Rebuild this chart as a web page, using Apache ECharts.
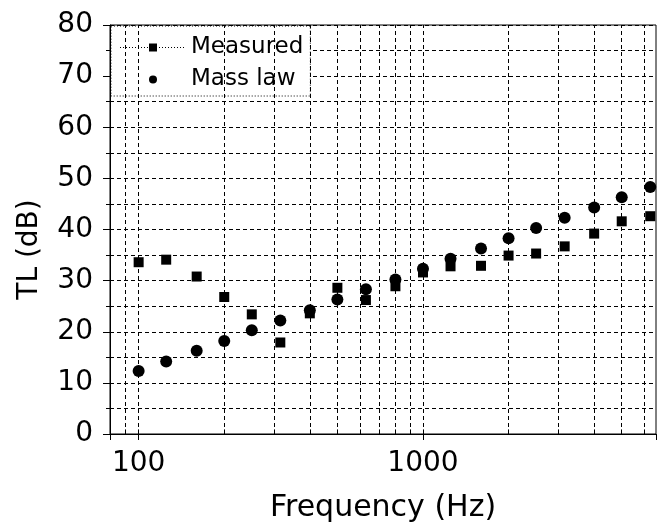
<!DOCTYPE html>
<html>
<head>
<meta charset="utf-8">
<script src="https://cdn.jsdelivr.net/npm/echarts@6/dist/echarts.min.js"></script>
<style>
  html, body { margin: 0; padding: 0; background: #fff; }
  #chart { width: 659px; height: 532px; }
</style>
</head>
<body>
<div id="chart"></div>
<script>
// 1/3-octave band centre frequencies (Hz)
const freqs = [100, 125, 160, 200, 250, 315, 400, 500, 630, 800, 1000, 1250, 1600, 2000, 2500, 3150, 4000, 5000, 6300];
const measured = [33.6, 34.1, 30.8, 26.8, 23.4, 17.9, 23.6, 28.6, 26.2, 28.9, 31.6, 32.8, 32.9, 34.9, 35.3, 36.7, 39.2, 41.6, 42.6];
const massLaw = [12.3, 14.2, 16.3, 18.2, 20.3, 22.2, 24.2, 26.3, 28.3, 30.2, 32.3, 34.3, 36.3, 38.3, 40.3, 42.3, 44.3, 46.3, 48.3];
// vertical grid positions (log minor grid)
const gridFreqs = [90, 100, 200, 300, 400, 500, 600, 700, 800, 900, 1000, 2000, 3000, 4000, 5000, 6000];
const xLabels = [100, 1000];

const font = '"DejaVu Sans", sans-serif';
const dash = [4, 3];

const chart = echarts.init(document.getElementById('chart'));
chart.setOption({
  animation: false,
  backgroundColor: '#fff',
  grid: {
    left: 110,
    right: -2,
    top: 25,
    bottom: 98,
    show: true,
    borderColor: '#000',
    borderWidth: 1
  },
  legend: {
    orient: 'vertical',
    left: 111,
    top: 26,
    padding: [10, 7, 5, 8],
    itemWidth: 66,
    itemHeight: 10,
    itemGap: 9,
    borderColor: '#000',
    borderWidth: 1,
    borderType: [1, 2],
    backgroundColor: '#fff',
    textStyle: { fontFamily: font, fontSize: 23, color: '#000' },
    data: [
      { name: 'Measured', itemStyle: { color: '#000' }, lineStyle: { color: '#000', width: 1, type: [1, 2], opacity: 1 } },
      { name: 'Mass law', itemStyle: { color: '#000' }, lineStyle: { opacity: 0 } }
    ]
  },
  xAxis: {
    type: 'log',
    logBase: 10,
    min: 79.3,
    max: 6600,
    name: 'Frequency (Hz)',
    nameLocation: 'middle',
    nameGap: 59,
    nameTextStyle: { fontFamily: font, fontSize: 30, color: '#000' },
    axisLine: { show: true, lineStyle: { color: '#000', width: 1 } },
    axisTick: { show: true, length: 6, lineStyle: { color: '#000' } },
    axisLabel: {
      fontFamily: font,
      fontSize: 28,
      color: '#000',
      margin: 16,
      formatter: v => (xLabels.some(l => Math.abs(l - v) < 1e-6) ? String(Math.round(v)) : '')
    },
    splitLine: { show: false }
  },
  yAxis: {
    type: 'value',
    min: 0,
    max: 80,
    interval: 10,
    name: 'TL (dB)',
    nameLocation: 'middle',
    nameGap: 66,
    nameTextStyle: { fontFamily: font, fontSize: 28, color: '#000', padding: [0, 40, 0, 0] },
    axisLine: { show: true, lineStyle: { color: '#000', width: 1 } },
    axisTick: { show: true, length: 7, lineStyle: { color: '#000' } },
    minorTick: { show: true, splitNumber: 2, length: 4, lineStyle: { color: '#000' } },
    axisLabel: { fontFamily: font, fontSize: 28, color: '#000', margin: 17 },
    splitLine: { show: true, lineStyle: { color: '#000', width: 1, type: dash } },
    minorSplitLine: { show: true, lineStyle: { color: '#000', width: 1, type: dash } }
  },
  series: [
    {
      name: 'Measured',
      type: 'line',
      data: freqs.map((f, i) => [f, measured[i]]),
      symbol: 'rect',
      symbolSize: 10,
      itemStyle: { color: '#000' },
      lineStyle: { opacity: 0 },
      z: 5,
      markLine: {
        silent: true,
        symbol: 'none',
        label: { show: false },
        lineStyle: { color: '#000', width: 1, type: dash },
        data: gridFreqs.map(f => ({ xAxis: f }))
      }
    },
    {
      name: 'Mass law',
      type: 'line',
      data: freqs.map((f, i) => [f, massLaw[i]]),
      symbol: 'circle',
      symbolSize: 12,
      itemStyle: { color: '#000' },
      lineStyle: { opacity: 0 },
      z: 4,
      // small inner minor ticks along the frequency axis
      markLine: {
        silent: true,
        symbol: 'none',
        label: { show: false },
        lineStyle: { color: '#000', width: 1, type: 'solid' },
        data: gridFreqs.map(f => [{ coord: [f, 0] }, { coord: [f, 0.9] }])
      }
    }
  ]
});
</script>
</body>
</html>
